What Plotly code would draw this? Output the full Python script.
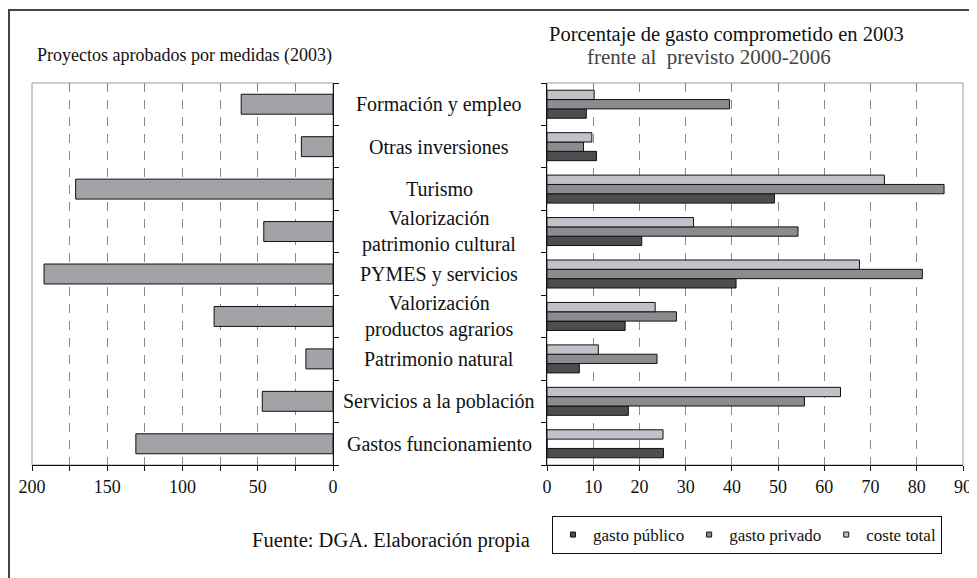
import plotly.graph_objects as go

# The page shows the figure with an 8px body margin, so the figure is sized to the
# remaining window area and all placements are given in window pixels minus 8.
OFF = 8
W, H = 977 - OFF, 578 - OFF

categories = ["Formación y empleo", "Otras inversiones", "Turismo",
              "Valorización patrimonio cultural", "PYMES y servicios",
              "Valorización productos agrarios", "Patrimonio natural",
              "Servicios a la población", "Gastos funcionamiento"]
category_labels = ["Formación y empleo", "Otras inversiones", "Turismo",
                   "Valorización<br>patrimonio cultural", "PYMES y servicios",
                   "Valorización<br>productos agrarios", "Patrimonio natural",
                   "Servicios a la población", "Gastos funcionamiento"]

proyectos = [61, 21, 171, 46, 192, 79, 18, 47, 131]

gasto_publico = [8.5, 10.7, 49.2, 20.5, 40.9, 16.9, 7.0, 17.6, 25.2]
gasto_privado = [39.5, 7.9, 85.9, 54.3, 81.2, 28.0, 23.8, 55.7, 0]
coste_total = [10.2, 9.7, 73.0, 31.7, 67.6, 23.4, 11.1, 63.5, 25.1]

left_tickvals = [0, 25, 50, 75, 100, 125, 150, 175, 200]
left_ticktext = ["0", "", "50", "", "100", "", "150", "", "200"]
right_tickvals = [0, 10, 20, 30, 40, 50, 60, 70, 80, 90]

series_names = ["gasto público", "gasto privado", "coste total"]
series_colors = ["#4f4b4f", "#8c8b90", "#c2c1c9"]

def px(x):
    return (x - OFF) / W

def py(y):
    return 1 - (y - OFF) / H

FONT = "Liberation Serif"
INK = "#111"
y_dom = [py(465), py(83)]
fig = go.Figure()

fig.add_trace(go.Bar(
    y=categories, x=proyectos, orientation="h", xaxis="x", yaxis="y",
    width=0.47, marker=dict(color="#a2a2a7", line=dict(color=INK, width=1)),
    showlegend=False, hoverinfo="x"))

# right panel: first trace is drawn at the bottom of each group
for name, vals, col in [(series_names[0], gasto_publico, series_colors[0]),
                        (series_names[1], gasto_privado, series_colors[1]),
                        (series_names[2], coste_total, series_colors[2])]:
    fig.add_trace(go.Bar(
        y=categories, x=vals, orientation="h", xaxis="x2", yaxis="y2",
        name=name, marker=dict(color=col, line=dict(color=INK, width=1)),
        showlegend=False))

for name, col in zip(series_names, series_colors):
    fig.add_trace(go.Scatter(
        x=[None], y=[None], mode="markers", name=name, xaxis="x2", yaxis="y2",
        marker=dict(symbol="square", size=5, color=col, line=dict(color=INK, width=1))))

axis_common = dict(showline=True, linecolor=INK, linewidth=1, ticks="outside",
                   ticklen=5, tickcolor=INK, automargin=False,
                   tickfont=dict(family=FONT, size=18, color=INK))

fig.update_layout(
    width=W, height=H, margin=dict(l=0, r=0, t=0, b=0, pad=0, autoexpand=False),
    paper_bgcolor="white", plot_bgcolor="white",
    font=dict(family=FONT, size=17, color=INK),
    barmode="group", bargap=0.34, bargroupgap=0,
    xaxis=dict(domain=[px(32), px(333)], range=[200, 0], anchor="y",
               tickvals=left_tickvals, ticktext=left_ticktext,
               showgrid=True, gridcolor="#8a8a8a", griddash="9px,8px", gridwidth=1,
               zeroline=False, **axis_common),
    yaxis=dict(domain=y_dom, anchor="x", side="right", type="category",
               categoryorder="array", categoryarray=categories[::-1],
               showticklabels=False, tickson="boundaries", showgrid=False,
               **axis_common),
    xaxis2=dict(domain=[px(547), px(963)], range=[0, 90], anchor="y2",
                tickvals=right_tickvals,
                showgrid=True, gridcolor="#8a8a8a", griddash="9px,8px", gridwidth=1,
                zeroline=False, **axis_common),
    yaxis2=dict(domain=y_dom, anchor="x2", side="left", type="category",
                categoryorder="array", categoryarray=categories[::-1],
                showticklabels=False, tickson="boundaries", showgrid=False,
                **axis_common),
    legend=dict(orientation="h", x=px(552), y=py(516), xanchor="left", yanchor="top",
                bordercolor=INK, borderwidth=1, bgcolor="white",
                font=dict(family=FONT, size=17, color=INK),
                itemwidth=30, tracegroupgap=0),
    showlegend=True,
)

shapes = []
# plot-area borders (gray)
shapes.append(dict(type="rect", xref="paper", yref="paper", x0=px(32), x1=px(333),
                   y0=y_dom[0], y1=y_dom[1], line=dict(color="#9a9a9a", width=1), layer="below"))
shapes.append(dict(type="rect", xref="paper", yref="paper", x0=px(547), x1=px(963),
                   y0=y_dom[0], y1=y_dom[1], line=dict(color="#9a9a9a", width=1), layer="below"))
# outer frame (left and top edges)
shapes.append(dict(type="line", xref="paper", yref="paper", x0=px(9), x1=px(9),
                   y0=0, y1=py(10), line=dict(color="#444", width=2)))
shapes.append(dict(type="line", xref="paper", yref="paper", x0=px(8), x1=1,
                   y0=py(10), y1=py(10), line=dict(color="#444", width=2)))
fig.update_layout(shapes=shapes)

annotations = []
for cat, lab in zip(categories, category_labels):
    annotations.append(dict(x=px(439), y=cat, xref="paper", yref="y", text=lab,
                            showarrow=False, xanchor="center", yanchor="middle",
                            font=dict(family=FONT, size=20, color=INK)))
annotations.append(dict(x=px(184), y=py(55), xref="paper", yref="paper",
                        text="Proyectos aprobados por medidas (2003)", showarrow=False,
                        xanchor="center", yanchor="middle",
                        font=dict(family=FONT, size=18, color=INK)))
annotations.append(dict(x=px(726), y=py(34), xref="paper", yref="paper",
                        text="Porcentaje de gasto comprometido en 2003", showarrow=False,
                        xanchor="center", yanchor="middle",
                        font=dict(family=FONT, size=20.5, color=INK)))
annotations.append(dict(x=px(709), y=py(57), xref="paper", yref="paper",
                        text="frente al  previsto 2000-2006", showarrow=False,
                        xanchor="center", yanchor="middle",
                        font=dict(family=FONT, size=21, color="#444")))
annotations.append(dict(x=px(391), y=py(540), xref="paper", yref="paper",
                        text="Fuente: DGA. Elaboración propia", showarrow=False,
                        xanchor="center", yanchor="middle",
                        font=dict(family=FONT, size=20.5, color=INK)))
fig.update_layout(annotations=annotations)

fig.write_html("out.html")
